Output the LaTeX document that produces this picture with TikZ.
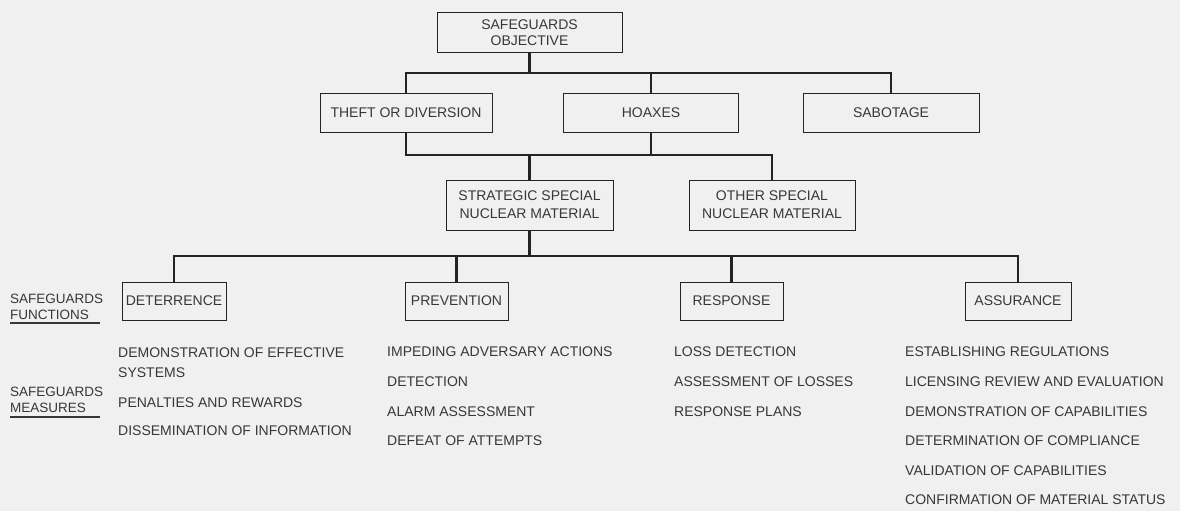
\documentclass[tikz,border=0pt]{standalone}
\usepackage{fontspec}
\setmainfont{Liberation Sans}
\usetikzlibrary{calc}
\definecolor{bg}{RGB}{240,240,240}
\definecolor{ink}{RGB}{35,35,35}
\definecolor{txt}{RGB}{55,55,55}
\begin{document}
\begin{tikzpicture}[x=1pt,y=-1pt,
  box/.style={draw=ink, line width=1pt, inner sep=0pt, align=center, text=txt,
    font=\fontsize{14}{16}\selectfont},
  conn/.style={draw=ink, line width=2.6pt},
  lbl/.style={inner sep=0pt, align=left, text=txt, anchor=north west,
    font=\fontsize{13.5}{16}\selectfont},
  meas/.style={inner sep=0pt, align=left, text=txt, anchor=north west,
    font=\fontsize{14}{29.6}\selectfont},
  uline/.style={draw=txt, line width=1.2pt}]
\useasboundingbox[fill=bg] (0,0) rectangle (1180,511);

% level 0
\node[box, minimum width=185, minimum height=40] (obj) at (529.5,33) {SAFEGUARDS\\OBJECTIVE};
% level 1
\node[box, minimum width=172, minimum height=39] (theft) at (406,112.5) {THEFT OR DIVERSION};
\node[box, minimum width=175, minimum height=39] (hoax) at (651,112.5) {HOAXES};
\node[box, minimum width=176, minimum height=39] (sab) at (891,112.5) {SABOTAGE};
% level 2
\node[box, minimum width=167, minimum height=50] (ssnm) at (529.5,205) {STRATEGIC SPECIAL\\[2pt]NUCLEAR MATERIAL};
\node[box, minimum width=166, minimum height=50] (osnm) at (772,205) {OTHER SPECIAL\\[2pt]NUCLEAR MATERIAL};
% level 3
\node[box, minimum width=104, minimum height=38] (det) at (174,301) {DETERRENCE};
\node[box, minimum width=103, minimum height=38] (prev) at (456.5,301) {PREVENTION};
\node[box, minimum width=103, minimum height=38] (resp) at (731.5,301) {RESPONSE};
\node[box, minimum width=106, minimum height=38] (assu) at (1018,301) {ASSURANCE};

% buses
\coordinate (b1) at (0,73);
\coordinate (b2) at (0,155);
\coordinate (b3) at (0,256);
\draw[conn] (obj.south) -- (obj.south |- b1);
\draw[conn] (theft.north) |- (sab.north |- b1) -- (sab.north);
\draw[conn] (hoax.north) -- (hoax.north |- b1);

\draw[conn] (theft.south) |- (osnm.north |- b2) -- (osnm.north);
\draw[conn] (hoax.south) -- (hoax.south |- b2);
\draw[conn] (ssnm.north) -- (ssnm.north |- b2);

\draw[conn] (ssnm.south) -- (ssnm.south |- b3);
\draw[conn] (det.north) |- (assu.north |- b3) -- (assu.north);
\draw[conn] (prev.north) -- (prev.north |- b3);
\draw[conn] (resp.north) -- (resp.north |- b3);

% left labels
\node[lbl] (fnl) at (10,294) {SAFEGUARDS\\FUNCTIONS};
\draw[uline] ($(fnl.south west)+(0,3)$) -- ($(fnl.south west)+(90,3)$);
\node[lbl] (msl) at (10,387) {SAFEGUARDS\\MEASURES};
\draw[uline] ($(msl.south west)+(0,4)$) -- ($(msl.south west)+(90,4)$);

% measures
\node[meas] (mdet) at (118,347.5) {DEMONSTRATION OF EFFECTIVE\\[-10pt]SYSTEMS\\[1pt]PENALTIES AND REWARDS\\[-2pt]DISSEMINATION OF INFORMATION};
\node[meas] (mprev) at (387,347) {IMPEDING ADVERSARY ACTIONS\\DETECTION\\ALARM ASSESSMENT\\DEFEAT OF ATTEMPTS};
\node[meas] (mresp) at (674,347) {LOSS DETECTION\\ASSESSMENT OF LOSSES\\RESPONSE PLANS};
\node[meas] (massu) at (905,347) {ESTABLISHING REGULATIONS\\LICENSING REVIEW AND EVALUATION\\DEMONSTRATION OF CAPABILITIES\\DETERMINATION OF COMPLIANCE\\VALIDATION OF CAPABILITIES\\CONFIRMATION OF MATERIAL STATUS};
\end{tikzpicture}
\end{document}
